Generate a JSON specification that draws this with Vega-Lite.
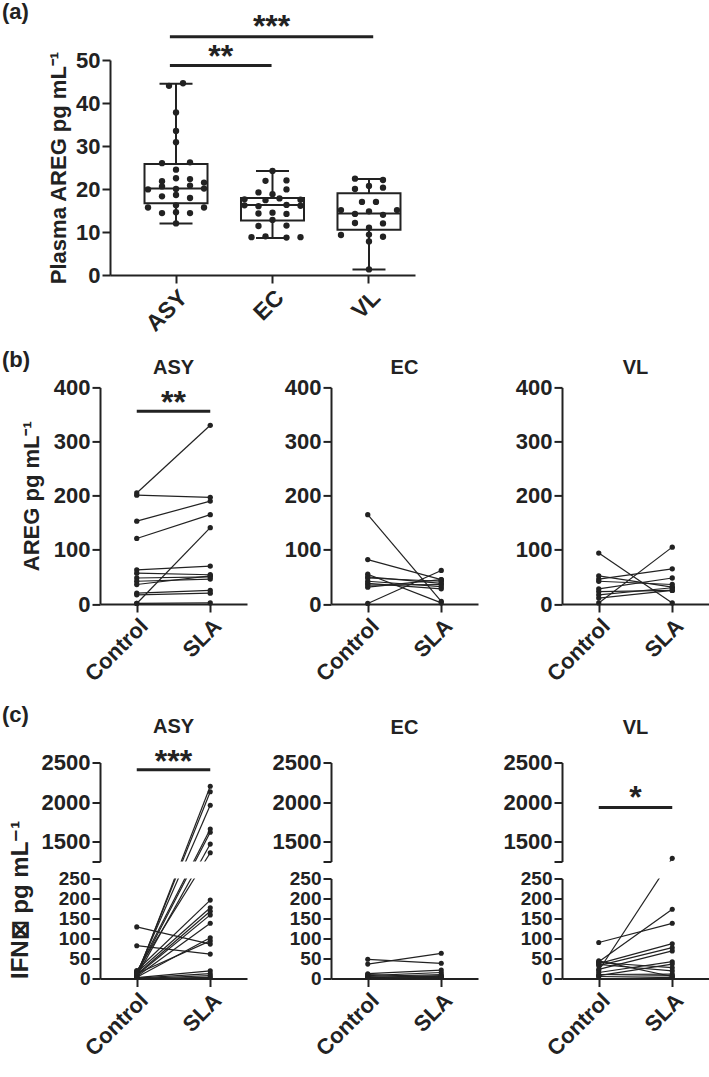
{
"$schema":"https://vega.github.io/schema/vega-lite/v6.json",
"padding":{"left":2,"top":0,"right":0,"bottom":0},
"autosize":{"type":"pad"},
"config":{
 "font":"Liberation Sans",
 "view":{"stroke":null},
 "axis":{"labelFontSize":22,"labelFontWeight":"bold","labelColor":"#222","titleFontSize":22,"titleFontWeight":"bold","titleColor":"#222","domainColor":"#222","domainWidth":2,"tickColor":"#222","tickWidth":2,"tickSize":8,"labelPadding":2,"grid":false,"labelOverlap":false,"labelBound":false,"labelFlush":false},
 "axisX":{"labelAngle":-45,"labelPadding":3},
 "title":{"fontSize":20,"fontWeight":"bold","color":"#222","baseline":"alphabetic","offset":-2,"anchor":"middle"}
},
"datasets":{
 "boxA":[
  {"g":"ASY","lo":12.0,"q1":16.7,"med":20.1,"q3":25.8,"hi":44.5},
  {"g":"EC","lo":8.6,"q1":12.7,"med":16.3,"q3":17.9,"hi":24.2},
  {"g":"VL","lo":1.3,"q1":10.5,"med":14.3,"q3":19.0,"hi":22.3}
 ],
 "ptsA":[
  {"g":"ASY","s":1,"v":44.6},{"g":"ASY","s":-1,"v":44.0},{"g":"ASY","s":0,"v":37.8},{"g":"ASY","s":0,"v":33.5},{"g":"ASY","s":0,"v":30.9},{"g":"ASY","s":2,"v":26.2},{"g":"ASY","s":-2,"v":26.0},{"g":"ASY","s":0,"v":24.5},{"g":"ASY","s":-2,"v":21.8},{"g":"ASY","s":0,"v":22.5},{"g":"ASY","s":2,"v":22.3},{"g":"ASY","s":4,"v":21.5},{"g":"ASY","s":-4,"v":19.9},{"g":"ASY","s":-2,"v":20.6},{"g":"ASY","s":0,"v":20.0},{"g":"ASY","s":2,"v":20.8},{"g":"ASY","s":4,"v":20.1},{"g":"ASY","s":-2,"v":18.3},{"g":"ASY","s":0,"v":18.6},{"g":"ASY","s":2,"v":17.9},{"g":"ASY","s":-4,"v":15.7},{"g":"ASY","s":0,"v":16.2},{"g":"ASY","s":4,"v":15.7},{"g":"ASY","s":-2,"v":14.4},{"g":"ASY","s":0,"v":14.6},{"g":"ASY","s":2,"v":14.4},{"g":"ASY","s":0,"v":12.0},
  {"g":"EC","s":0,"v":24.2},{"g":"EC","s":-1,"v":21.9},{"g":"EC","s":2,"v":22.0},{"g":"EC","s":-2,"v":19.2},{"g":"EC","s":0,"v":18.8},{"g":"EC","s":2,"v":19.9},{"g":"EC","s":-4,"v":17.6},{"g":"EC","s":-1,"v":17.4},{"g":"EC","s":1,"v":17.8},{"g":"EC","s":4,"v":17.5},{"g":"EC","s":-4,"v":16.2},{"g":"EC","s":-2,"v":16.0},{"g":"EC","s":2,"v":16.3},{"g":"EC","s":4,"v":16.1},{"g":"EC","s":-2,"v":14.3},{"g":"EC","s":0,"v":14.5},{"g":"EC","s":2,"v":14.2},{"g":"EC","s":0,"v":12.8},{"g":"EC","s":-2,"v":11.4},{"g":"EC","s":2,"v":11.5},{"g":"EC","s":-3,"v":8.8},{"g":"EC","s":-1,"v":9.0},{"g":"EC","s":2,"v":8.7},{"g":"EC","s":4,"v":8.8},
  {"g":"VL","s":-2,"v":22.4},{"g":"VL","s":2,"v":22.1},{"g":"VL","s":0,"v":20.7},{"g":"VL","s":-2,"v":20.0},{"g":"VL","s":2,"v":20.3},{"g":"VL","s":-1,"v":17.0},{"g":"VL","s":1,"v":17.0},{"g":"VL","s":-4,"v":15.1},{"g":"VL","s":4,"v":15.1},{"g":"VL","s":0,"v":14.8},{"g":"VL","s":-2,"v":14.2},{"g":"VL","s":2,"v":14.0},{"g":"VL","s":-2,"v":12.1},{"g":"VL","s":2,"v":12.0},{"g":"VL","s":0,"v":11.0},{"g":"VL","s":-4,"v":9.3},{"g":"VL","s":0,"v":9.4},{"g":"VL","s":2,"v":8.9},{"g":"VL","s":0,"v":7.8},{"g":"VL","s":0,"v":1.3}
 ],
 "annA":[
  {"p1":"ASY","p2":"EC","pm":"m1","y":48.7,"ty":48.3,"t":"**"},
  {"p1":"ASY","p2":"VL","pm":"EC","y":55.4,"ty":55.45,"t":"***"}
 ],
 "pb":[
  {"g":"ASY","id":1,"Control":205,"SLA":330},{"g":"ASY","id":2,"Control":201,"SLA":197},{"g":"ASY","id":3,"Control":153,"SLA":190},{"g":"ASY","id":4,"Control":121,"SLA":165},{"g":"ASY","id":5,"Control":1,"SLA":141},{"g":"ASY","id":6,"Control":63,"SLA":70},{"g":"ASY","id":7,"Control":57,"SLA":54},{"g":"ASY","id":8,"Control":48,"SLA":50},{"g":"ASY","id":9,"Control":42,"SLA":46},{"g":"ASY","id":10,"Control":36,"SLA":52},{"g":"ASY","id":11,"Control":20,"SLA":25},{"g":"ASY","id":12,"Control":17,"SLA":20},{"g":"ASY","id":13,"Control":1,"SLA":2},
  {"g":"EC","id":1,"Control":165,"SLA":5},{"g":"EC","id":2,"Control":82,"SLA":45},{"g":"EC","id":3,"Control":55,"SLA":2},{"g":"EC","id":4,"Control":50,"SLA":38},{"g":"EC","id":5,"Control":48,"SLA":42},{"g":"EC","id":6,"Control":42,"SLA":32},{"g":"EC","id":7,"Control":38,"SLA":28},{"g":"EC","id":8,"Control":35,"SLA":36},{"g":"EC","id":9,"Control":31,"SLA":45},{"g":"EC","id":10,"Control":1,"SLA":62},
  {"g":"VL","id":1,"Control":94,"SLA":2},{"g":"VL","id":2,"Control":2,"SLA":105},{"g":"VL","id":3,"Control":52,"SLA":31},{"g":"VL","id":4,"Control":46,"SLA":65},{"g":"VL","id":5,"Control":42,"SLA":36},{"g":"VL","id":6,"Control":28,"SLA":48},{"g":"VL","id":7,"Control":23,"SLA":25},{"g":"VL","id":8,"Control":17,"SLA":30},{"g":"VL","id":9,"Control":11,"SLA":25}
 ],
 "annB":[{"c1":"Control","c2":"SLA","pm":"mid","y":356,"ty":353,"t":"**"}],
 "pc":[
  {"g":"ASY","id":1,"Control":5,"SLA":2200},{"g":"ASY","id":2,"Control":8,"SLA":2130},{"g":"ASY","id":3,"Control":12,"SLA":1960},{"g":"ASY","id":4,"Control":15,"SLA":1660},{"g":"ASY","id":5,"Control":10,"SLA":1620},{"g":"ASY","id":6,"Control":6,"SLA":1470},{"g":"ASY","id":7,"Control":18,"SLA":1360},{"g":"ASY","id":8,"Control":20,"SLA":196},{"g":"ASY","id":9,"Control":15,"SLA":177},{"g":"ASY","id":10,"Control":10,"SLA":168},{"g":"ASY","id":11,"Control":8,"SLA":159},{"g":"ASY","id":12,"Control":5,"SLA":138},{"g":"ASY","id":13,"Control":3,"SLA":102},{"g":"ASY","id":14,"Control":129,"SLA":86},{"g":"ASY","id":15,"Control":82,"SLA":61},{"g":"ASY","id":16,"Control":12,"SLA":94},{"g":"ASY","id":17,"Control":2,"SLA":19},{"g":"ASY","id":18,"Control":1,"SLA":12},{"g":"ASY","id":19,"Control":0,"SLA":7},{"g":"ASY","id":20,"Control":0,"SLA":3},
  {"g":"EC","id":1,"Control":48,"SLA":38},{"g":"EC","id":2,"Control":36,"SLA":63},{"g":"EC","id":3,"Control":12,"SLA":21},{"g":"EC","id":4,"Control":7,"SLA":15},{"g":"EC","id":5,"Control":10,"SLA":4},{"g":"EC","id":6,"Control":5,"SLA":10},{"g":"EC","id":7,"Control":3,"SLA":7},{"g":"EC","id":8,"Control":2,"SLA":5},{"g":"EC","id":9,"Control":1,"SLA":3},{"g":"EC","id":10,"Control":0,"SLA":2},
  {"g":"VL","id":1,"Control":90,"SLA":138},{"g":"VL","id":2,"Control":20,"SLA":1290},{"g":"VL","id":3,"Control":42,"SLA":173},{"g":"VL","id":4,"Control":37,"SLA":87},{"g":"VL","id":5,"Control":32,"SLA":77},{"g":"VL","id":6,"Control":23,"SLA":69},{"g":"VL","id":7,"Control":15,"SLA":42},{"g":"VL","id":8,"Control":7,"SLA":36},{"g":"VL","id":9,"Control":40,"SLA":27},{"g":"VL","id":10,"Control":35,"SLA":19},{"g":"VL","id":11,"Control":10,"SLA":11},{"g":"VL","id":12,"Control":5,"SLA":7},{"g":"VL","id":13,"Control":44,"SLA":5},{"g":"VL","id":14,"Control":0,"SLA":3}
 ],
 "annCA":[{"c1":"Control","c2":"SLA","pm":"mid","y":2408,"ty":2386,"t":"***"}],
 "annCV":[{"c1":"Control","c2":"SLA","pm":"mid","y":1933,"ty":1920,"t":"*"}]
},
"spacing":17.5,
"vconcat":[
 {"spacing":12.4,"vconcat":[
  {
   "width":315,"height":215,
   "title":{"text":"(a)","anchor":"start","frame":"group","dx":-98,"offset":-13.3,"fontSize":22},
   "resolve":{"scale":{"x":"independent"}},
   "layer":[
    {"data":{"name":"boxA"},"layer":[
     {"mark":{"type":"rule","strokeWidth":2,"color":"#222"},
      "encoding":{"x":{"field":"g","type":"nominal","title":null,"scale":{"type":"band","domain":["ASY","EC","VL"],"range":[10,315],"paddingInner":0.347,"paddingOuter":0.254,"align":0.704},"axis":{"labelAngle":-45,"labelFontSize":23}},
       "y":{"field":"lo","type":"quantitative","title":"Plasma AREG pg mL⁻¹","scale":{"domain":[0,50],"nice":false},"axis":{"values":[0,10,20,30,40,50],"offset":-10,"titlePadding":5}},"y2":{"field":"hi"}}},
     {"mark":{"type":"bar","fill":"white","stroke":"#222","strokeWidth":2,"width":63},
      "encoding":{"x":{"field":"g","type":"nominal","title":null,"scale":{"type":"band","domain":["ASY","EC","VL"],"range":[10,315],"paddingInner":0.347,"paddingOuter":0.254,"align":0.704},"axis":{"labelAngle":-45,"labelFontSize":23}},
       "y":{"field":"q1","type":"quantitative","title":"Plasma AREG pg mL⁻¹"},"y2":{"field":"q3"}}},
     {"mark":{"type":"tick","size":63,"thickness":2,"color":"#222","opacity":1},
      "encoding":{"x":{"field":"g","type":"nominal","title":null,"scale":{"type":"band","domain":["ASY","EC","VL"],"range":[10,315],"paddingInner":0.347,"paddingOuter":0.254,"align":0.704},"axis":{"labelAngle":-45,"labelFontSize":23}},
       "y":{"field":"med","type":"quantitative","title":"Plasma AREG pg mL⁻¹"}}},
     {"mark":{"type":"tick","size":33,"thickness":2,"color":"#222","opacity":1},
      "encoding":{"x":{"field":"g","type":"nominal","title":null,"scale":{"type":"band","domain":["ASY","EC","VL"],"range":[10,315],"paddingInner":0.347,"paddingOuter":0.254,"align":0.704},"axis":{"labelAngle":-45,"labelFontSize":23}},
       "y":{"field":"lo","type":"quantitative","title":"Plasma AREG pg mL⁻¹"}}},
     {"mark":{"type":"tick","size":33,"thickness":2,"color":"#222","opacity":1},
      "encoding":{"x":{"field":"g","type":"nominal","title":null,"scale":{"type":"band","domain":["ASY","EC","VL"],"range":[10,315],"paddingInner":0.347,"paddingOuter":0.254,"align":0.704},"axis":{"labelAngle":-45,"labelFontSize":23}},
       "y":{"field":"hi","type":"quantitative","title":"Plasma AREG pg mL⁻¹"}}},
     {"data":{"name":"ptsA"},"mark":{"type":"circle","size":40,"color":"#222","opacity":1},
      "encoding":{"x":{"field":"g","type":"nominal","title":null,"scale":{"type":"band","domain":["ASY","EC","VL"],"range":[10,315],"paddingInner":0.347,"paddingOuter":0.254,"align":0.704},"axis":{"labelAngle":-45,"labelFontSize":23}},
       "xOffset":{"field":"s","type":"ordinal","scale":{"domain":[-4,-3,-2,-1,0,1,2,3,4]}},
       "y":{"field":"v","type":"quantitative","title":"Plasma AREG pg mL⁻¹"}}}
    ]},
    {"data":{"name":"annA"},"layer":[
     {"mark":{"type":"rule","strokeWidth":3,"color":"#222"},
      "encoding":{"x":{"field":"p1","type":"nominal","title":null,"scale":{"type":"point","domain":["ASY","m1","EC","m2","VL"],"range":[10,315],"padding":1.161,"align":0.589},"axis":null},"x2":{"field":"p2"},
       "y":{"field":"y","type":"quantitative","title":"Plasma AREG pg mL⁻¹"}}},
     {"mark":{"type":"text","fontSize":32,"fontWeight":"bold","baseline":"alphabetic","align":"center","color":"#222"},
      "encoding":{"x":{"field":"pm","type":"nominal","title":null,"scale":{"type":"point","domain":["ASY","m1","EC","m2","VL"],"range":[10,315],"padding":1.161,"align":0.589},"axis":null},
       "y":{"field":"ty","type":"quantitative","title":"Plasma AREG pg mL⁻¹"},"text":{"field":"t"}}}
    ]}
   ]
  },
  {"spacing":84,"bounds":"flush",
   "title":{"text":"(b)","anchor":"start","frame":"group","dx":-98,"offset":-13.3,"fontSize":22},
   "hconcat":[
     {"width":147,"height":216.6,"title":{"text":"ASY"},
      "layer":[
       {"data":{"name":"pb"},"transform":[{"filter":"datum.g == 'ASY'"},{"fold":["Control","SLA"],"as":["c","v"]}],
        "mark":{"type":"line","color":"#222","strokeWidth":1.2},
        "encoding":{"x":{"field":"c","type":"nominal","title":null,"scale":{"type":"point","domain":["Control","mid","SLA"],"padding":1.352},"axis":{"values":["Control","SLA"]}},
         "y":{"field":"v","type":"quantitative","title":"AREG pg mL⁻¹","scale":{"domain":[0,400],"nice":false},"axis":{"values":[0,100,200,300,400],"titlePadding":10}},"detail":{"field":"id","type":"nominal"}}},
       {"data":{"name":"pb"},"transform":[{"filter":"datum.g == 'ASY'"},{"fold":["Control","SLA"],"as":["c","v"]}],
        "mark":{"type":"circle","size":28,"color":"#222","opacity":1},
        "encoding":{"x":{"field":"c","type":"nominal","title":null,"scale":{"type":"point","domain":["Control","mid","SLA"],"padding":1.352},"axis":{"values":["Control","SLA"]}},
         "y":{"field":"v","type":"quantitative","title":"AREG pg mL⁻¹"}}},
       {"data":{"name":"annB"},"layer":[
        {"mark":{"type":"rule","strokeWidth":3,"color":"#222"},
         "encoding":{"x":{"field":"c1","type":"nominal","title":null},"x2":{"field":"c2"},"y":{"field":"y","type":"quantitative","title":"AREG pg mL⁻¹"}}},
        {"mark":{"type":"text","fontSize":32,"fontWeight":"bold","baseline":"alphabetic","align":"center","color":"#222"},
         "encoding":{"x":{"field":"pm","type":"nominal","title":null},"y":{"field":"ty","type":"quantitative","title":"AREG pg mL⁻¹"},"text":{"field":"t"}}}
       ]}
      ]},
     {"width":147,"height":216.6,"title":{"text":"EC"},
      "layer":[
       {"data":{"name":"pb"},"transform":[{"filter":"datum.g == 'EC'"},{"fold":["Control","SLA"],"as":["c","v"]}],
        "mark":{"type":"line","color":"#222","strokeWidth":1.2},
        "encoding":{"x":{"field":"c","type":"nominal","title":null,"scale":{"type":"point","domain":["Control","mid","SLA"],"padding":1.352},"axis":{"values":["Control","SLA"]}},
         "y":{"field":"v","type":"quantitative","title":null,"scale":{"domain":[0,400],"nice":false},"axis":{"values":[0,100,200,300,400]}},"detail":{"field":"id","type":"nominal"}}},
       {"data":{"name":"pb"},"transform":[{"filter":"datum.g == 'EC'"},{"fold":["Control","SLA"],"as":["c","v"]}],
        "mark":{"type":"circle","size":28,"color":"#222","opacity":1},
        "encoding":{"x":{"field":"c","type":"nominal","title":null,"scale":{"type":"point","domain":["Control","mid","SLA"],"padding":1.352},"axis":{"values":["Control","SLA"]}},
         "y":{"field":"v","type":"quantitative","title":null}}}
      ]},
    {"width":147,"height":216.6,"title":{"text":"VL"},
     "layer":[
      {"data":{"name":"pb"},"transform":[{"filter":"datum.g == 'VL'"},{"fold":["Control","SLA"],"as":["c","v"]}],
       "mark":{"type":"line","color":"#222","strokeWidth":1.2},
       "encoding":{"x":{"field":"c","type":"nominal","title":null,"scale":{"type":"point","domain":["Control","mid","SLA"],"padding":1.352},"axis":{"values":["Control","SLA"]}},
        "y":{"field":"v","type":"quantitative","title":null,"scale":{"domain":[0,400],"nice":false},"axis":{"values":[0,100,200,300,400]}},"detail":{"field":"id","type":"nominal"}}},
      {"data":{"name":"pb"},"transform":[{"filter":"datum.g == 'VL'"},{"fold":["Control","SLA"],"as":["c","v"]}],
       "mark":{"type":"circle","size":28,"color":"#222","opacity":1},
       "encoding":{"x":{"field":"c","type":"nominal","title":null,"scale":{"type":"point","domain":["Control","mid","SLA"],"padding":1.352},"axis":{"values":["Control","SLA"]}},
        "y":{"field":"v","type":"quantitative","title":null}}}
     ]}
   ]}
 ]},
 {"columns":3,"spacing":{"row":17,"column":84},"bounds":"flush",
  "title":{"text":"(c)","anchor":"start","frame":"group","dx":-98,"offset":-10.3,"fontSize":22},
  "concat":[
     {"width":147,"height":99,"title":{"text":"ASY","offset":9},
      "resolve":{"scale":{"y":"independent"}},
      "layer":[
       {"data":{"name":"pc"},"transform":[{"filter":"datum.g == 'ASY'"},{"fold":["Control","SLA"],"as":["c","v"]}],
        "mark":{"type":"line","color":"#222","strokeWidth":1.2,"clip":true},
        "encoding":{"x":{"field":"c","type":"nominal","title":null,"scale":{"type":"point","domain":["Control","mid","SLA"],"padding":1.352},"axis":null},
         "y":{"field":"v","type":"quantitative","scale":{"domain":[0,250,1250,2500],"range":[216,116,99,0],"nice":false,"zero":false},"axis":null},"detail":{"field":"id","type":"nominal"}}},
       {"layer":[
        {"data":{"name":"pc"},"transform":[{"filter":"datum.g == 'ASY'"},{"fold":["Control","SLA"],"as":["c","v"]}],
         "mark":{"type":"circle","size":26,"color":"#222","opacity":1,"clip":true},
         "encoding":{"x":{"field":"c","type":"nominal","title":null,"scale":{"type":"point","domain":["Control","mid","SLA"],"padding":1.352},"axis":null},
          "y":{"field":"v","type":"quantitative","title":null,"scale":{"domain":[1250,2500],"nice":false,"zero":false},"axis":{"orient":"left","values":[1250,1500,2000,2500],"format":"d","labelExpr":"datum.value == 1250 ? '' : datum.label"}}}},
        {"data":{"name":"annCA"},"layer":[
         {"mark":{"type":"rule","strokeWidth":3,"color":"#222"},
          "encoding":{"x":{"field":"c1","type":"nominal","title":null},"x2":{"field":"c2"},"y":{"field":"y","type":"quantitative","title":null,"scale":{"domain":[1250,2500],"nice":false,"zero":false},"axis":{"orient":"left","values":[1250,1500,2000,2500],"format":"d","labelExpr":"datum.value == 1250 ? '' : datum.label"}}}},
         {"mark":{"type":"text","fontSize":32,"fontWeight":"bold","baseline":"alphabetic","align":"center","color":"#222"},
          "encoding":{"x":{"field":"pm","type":"nominal","title":null},"y":{"field":"ty","type":"quantitative","title":null,"scale":{"domain":[1250,2500],"nice":false,"zero":false},"axis":{"orient":"left","values":[1250,1500,2000,2500],"format":"d","labelExpr":"datum.value == 1250 ? '' : datum.label"}},"text":{"field":"t"}}}
        ]}
       ]}
      ]},
     {"width":147,"height":99,"title":{"text":"EC","offset":14},
      "resolve":{"scale":{"y":"independent"}},
      "layer":[
       {"data":{"name":"pc"},"transform":[{"filter":"datum.g == 'EC'"},{"fold":["Control","SLA"],"as":["c","v"]}],
        "mark":{"type":"line","color":"#222","strokeWidth":1.2,"clip":true},
        "encoding":{"x":{"field":"c","type":"nominal","title":null,"scale":{"type":"point","domain":["Control","mid","SLA"],"padding":1.352},"axis":null},
         "y":{"field":"v","type":"quantitative","scale":{"domain":[0,250,1250,2500],"range":[216,116,99,0],"nice":false,"zero":false},"axis":null},"detail":{"field":"id","type":"nominal"}}},
       {"layer":[
        {"data":{"name":"pc"},"transform":[{"filter":"datum.g == 'EC'"},{"fold":["Control","SLA"],"as":["c","v"]}],
         "mark":{"type":"circle","size":26,"color":"#222","opacity":1,"clip":true},
         "encoding":{"x":{"field":"c","type":"nominal","title":null,"scale":{"type":"point","domain":["Control","mid","SLA"],"padding":1.352},"axis":null},
          "y":{"field":"v","type":"quantitative","title":null,"scale":{"domain":[1250,2500],"nice":false,"zero":false},"axis":{"orient":"left","values":[1250,1500,2000,2500],"format":"d","labelExpr":"datum.value == 1250 ? '' : datum.label"}}}}
       ]}
      ]},
    {"width":147,"height":99,"title":{"text":"VL","offset":14},
     "resolve":{"scale":{"y":"independent"}},
     "layer":[
      {"data":{"name":"pc"},"transform":[{"filter":"datum.g == 'VL'"},{"fold":["Control","SLA"],"as":["c","v"]}],
       "mark":{"type":"line","color":"#222","strokeWidth":1.2,"clip":true},
       "encoding":{"x":{"field":"c","type":"nominal","title":null,"scale":{"type":"point","domain":["Control","mid","SLA"],"padding":1.352},"axis":null},
        "y":{"field":"v","type":"quantitative","scale":{"domain":[0,250,1250,2500],"range":[216,116,99,0],"nice":false,"zero":false},"axis":null},"detail":{"field":"id","type":"nominal"}}},
      {"layer":[
       {"data":{"name":"pc"},"transform":[{"filter":"datum.g == 'VL'"},{"fold":["Control","SLA"],"as":["c","v"]}],
        "mark":{"type":"circle","size":26,"color":"#222","opacity":1,"clip":true},
        "encoding":{"x":{"field":"c","type":"nominal","title":null,"scale":{"type":"point","domain":["Control","mid","SLA"],"padding":1.352},"axis":null},
         "y":{"field":"v","type":"quantitative","title":null,"scale":{"domain":[1250,2500],"nice":false,"zero":false},"axis":{"orient":"left","values":[1250,1500,2000,2500],"format":"d","labelExpr":"datum.value == 1250 ? '' : datum.label"}}}},
       {"data":{"name":"annCV"},"layer":[
        {"mark":{"type":"rule","strokeWidth":3,"color":"#222"},
         "encoding":{"x":{"field":"c1","type":"nominal","title":null},"x2":{"field":"c2"},"y":{"field":"y","type":"quantitative","title":null,"scale":{"domain":[1250,2500],"nice":false,"zero":false},"axis":{"orient":"left","values":[1250,1500,2000,2500],"format":"d","labelExpr":"datum.value == 1250 ? '' : datum.label"}}}},
        {"mark":{"type":"text","fontSize":32,"fontWeight":"bold","baseline":"alphabetic","align":"center","color":"#222"},
         "encoding":{"x":{"field":"pm","type":"nominal","title":null},"y":{"field":"ty","type":"quantitative","title":null,"scale":{"domain":[1250,2500],"nice":false,"zero":false},"axis":{"orient":"left","values":[1250,1500,2000,2500],"format":"d","labelExpr":"datum.value == 1250 ? '' : datum.label"}},"text":{"field":"t"}}}
       ]}
      ]}
     ]},
     {"width":147,"height":100,
      "resolve":{"scale":{"y":"independent"}},
      "layer":[
       {"data":{"name":"pc"},"transform":[{"filter":"datum.g == 'ASY'"},{"fold":["Control","SLA"],"as":["c","v"]}],
        "mark":{"type":"line","color":"#222","strokeWidth":1.2,"clip":true},
        "encoding":{"x":{"field":"c","type":"nominal","title":null,"scale":{"type":"point","domain":["Control","mid","SLA"],"padding":1.352},"axis":{"values":["Control","SLA"]}},
         "y":{"field":"v","type":"quantitative","scale":{"domain":[0,250,1250,2500],"range":[100,0,-17,-116],"nice":false,"zero":false},"axis":null},"detail":{"field":"id","type":"nominal"}}},
       {"layer":[
        {"data":{"name":"pc"},"transform":[{"filter":"datum.g == 'ASY'"},{"fold":["Control","SLA"],"as":["c","v"]}],
         "mark":{"type":"circle","size":26,"color":"#222","opacity":1,"clip":true},
         "encoding":{"x":{"field":"c","type":"nominal","title":null,"scale":{"type":"point","domain":["Control","mid","SLA"],"padding":1.352},"axis":{"values":["Control","SLA"]}},
          "y":{"field":"v","type":"quantitative","title":"IFN⊠ pg mL⁻¹","scale":{"domain":[0,250],"nice":false},"axis":{"orient":"left","values":[0,50,100,150,200,250],"labelFontSize":19,"titleAnchor":"start","titlePadding":26,"titleFontSize":24}}}}
       ]}
      ]},
     {"width":147,"height":100,
      "resolve":{"scale":{"y":"independent"}},
      "layer":[
       {"data":{"name":"pc"},"transform":[{"filter":"datum.g == 'EC'"},{"fold":["Control","SLA"],"as":["c","v"]}],
        "mark":{"type":"line","color":"#222","strokeWidth":1.2,"clip":true},
        "encoding":{"x":{"field":"c","type":"nominal","title":null,"scale":{"type":"point","domain":["Control","mid","SLA"],"padding":1.352},"axis":{"values":["Control","SLA"]}},
         "y":{"field":"v","type":"quantitative","scale":{"domain":[0,250,1250,2500],"range":[100,0,-17,-116],"nice":false,"zero":false},"axis":null},"detail":{"field":"id","type":"nominal"}}},
       {"layer":[
        {"data":{"name":"pc"},"transform":[{"filter":"datum.g == 'EC'"},{"fold":["Control","SLA"],"as":["c","v"]}],
         "mark":{"type":"circle","size":26,"color":"#222","opacity":1,"clip":true},
         "encoding":{"x":{"field":"c","type":"nominal","title":null,"scale":{"type":"point","domain":["Control","mid","SLA"],"padding":1.352},"axis":{"values":["Control","SLA"]}},
          "y":{"field":"v","type":"quantitative","title":null,"scale":{"domain":[0,250],"nice":false},"axis":{"orient":"left","values":[0,50,100,150,200,250],"labelFontSize":19}}}}
       ]}
      ]},
    {"width":147,"height":100,
     "resolve":{"scale":{"y":"independent"}},
     "layer":[
      {"data":{"name":"pc"},"transform":[{"filter":"datum.g == 'VL'"},{"fold":["Control","SLA"],"as":["c","v"]}],
       "mark":{"type":"line","color":"#222","strokeWidth":1.2,"clip":true},
       "encoding":{"x":{"field":"c","type":"nominal","title":null,"scale":{"type":"point","domain":["Control","mid","SLA"],"padding":1.352},"axis":{"values":["Control","SLA"]}},
        "y":{"field":"v","type":"quantitative","scale":{"domain":[0,250,1250,2500],"range":[100,0,-17,-116],"nice":false,"zero":false},"axis":null},"detail":{"field":"id","type":"nominal"}}},
      {"layer":[
       {"data":{"name":"pc"},"transform":[{"filter":"datum.g == 'VL'"},{"fold":["Control","SLA"],"as":["c","v"]}],
        "mark":{"type":"circle","size":26,"color":"#222","opacity":1,"clip":true},
        "encoding":{"x":{"field":"c","type":"nominal","title":null,"scale":{"type":"point","domain":["Control","mid","SLA"],"padding":1.352},"axis":{"values":["Control","SLA"]}},
         "y":{"field":"v","type":"quantitative","title":null,"scale":{"domain":[0,250],"nice":false},"axis":{"orient":"left","values":[0,50,100,150,200,250],"labelFontSize":19}}}}
      ]}
     ]}
  ]}
]
}
